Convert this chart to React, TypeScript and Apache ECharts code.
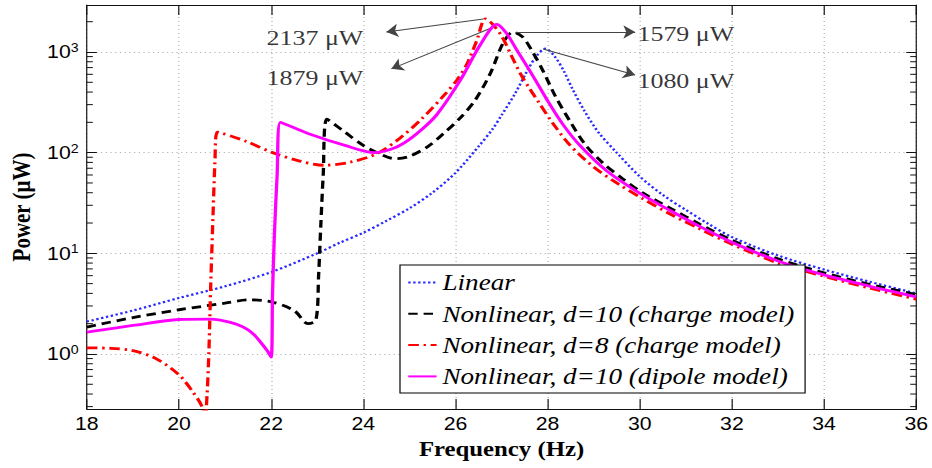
import React, { useEffect, useRef } from 'react';
import * as echarts from 'echarts';

// The original figure is horizontally stretched; we draw at a narrower width and stretch it back.
const STRETCH = 1.18;
const PAGE_W = 932;
const PAGE_H = 468;

const xMin = 18;
const xMax = 36;
const xStep = 2;
const yMin = 0.284;
const yMax = 2930;

const seriesNames = [
  'Linear',
  'Nonlinear, d=10 (charge model)',
  'Nonlinear, d=8 (charge model)',
  'Nonlinear, d=10 (dipole model)',
];

const linearData = [
  [18, 2.1], [19, 2.7], [20, 3.6], [21, 4.7], [22, 6.5], [23, 10], [23.5, 12.8], [24, 16], [24.5, 21],
  [25, 28], [25.5, 40], [26, 63], [26.5, 115], [26.8, 170], [27, 235], [27.3, 390], [27.55, 640],
  [27.75, 900], [27.95, 1080], [28.15, 910], [28.35, 650], [28.55, 420], [28.8, 260], [29.1, 160],
  [29.5, 100], [30, 58], [30.5, 38], [31, 27], [31.5, 19.5], [32, 14.5], [33, 9.5], [34, 6.9], [35, 5.2], [36, 4.0],
];

const chargeD10Data = [
  [18, 1.85], [19, 2.3], [20, 2.75], [21, 3.2], [21.5, 3.45], [22, 3.3], [22.5, 2.7], [22.8, 2.0],
  [22.97, 2.15], [23.03, 6], [23.08, 20], [23.13, 60], [23.21, 215], [23.6, 160], [24, 118], [24.3, 100],
  [24.7, 87], [25, 92], [25.4, 115], [25.75, 156], [26.1, 220], [26.43, 333], [26.76, 617], [27.04, 1240],
  [27.25, 1579], [27.45, 1420], [27.65, 1050], [27.9, 650], [28.16, 370], [28.5, 200], [28.83, 118],
  [29.2, 79], [29.63, 55], [30.06, 40], [30.7, 27.5], [31.3, 19.5], [32, 13.5], [33, 8.8], [34, 6.4], [35, 4.9], [36, 3.9],
];

const chargeD8Data = [
  [18, 1.15], [18.5, 1.14], [19, 1.08], [19.5, 0.9], [20, 0.62], [20.3, 0.42], [20.5, 0.3], [20.56, 0.22],
  [20.61, 0.4], [20.65, 1.1], [20.69, 5], [20.74, 25], [20.78, 80], [20.83, 160], [21.45, 130], [22.03, 100],
  [22.6, 83], [23.15, 75], [23.7, 80], [24.3, 98], [24.8, 140], [25.26, 215], [25.75, 370], [26.05, 540],
  [26.25, 760], [26.46, 1290], [26.65, 2137], [26.8, 1900], [27, 1450], [27.2, 950], [27.4, 620], [27.6, 440],
  [27.8, 320], [28.1, 200], [28.49, 118], [29, 72], [29.5, 50], [30.06, 35], [30.7, 24], [31.3, 17.5], [32, 12.3],
  [33, 8], [34, 5.9], [35, 4.5], [36, 3.5],
];

const dipoleD10Data = [
  [18, 1.65], [19, 1.92], [20, 2.2], [20.7, 2.22], [21, 2.12], [21.25, 1.97], [21.5, 1.74], [21.65, 1.52],
  [21.8, 1.26], [21.92, 1.07], [22, 0.93], [22.03, 4], [22.07, 15], [22.13, 60], [22.2, 200], [22.8, 155],
  [23.6, 118], [24.24, 100], [24.6, 108], [24.89, 125], [25.3, 175], [25.6, 240], [26.1, 520], [26.55, 1200],
  [26.9, 1879], [27.1, 1550], [27.33, 1050], [27.7, 560], [27.97, 345], [28.3, 200], [28.7, 118], [29.3, 65],
  [30.06, 38], [30.7, 26], [31.3, 18.5], [32, 12.9], [33, 8.4], [34, 6.1], [35, 4.7], [36, 3.7],
];

const minorTickValues = [
  0.3, 0.4, 0.5, 0.6, 0.7, 0.8, 0.9,
  2, 3, 4, 5, 6, 7, 8, 9,
  20, 30, 40, 50, 60, 70, 80, 90,
  200, 300, 400, 500, 600, 700, 800, 900,
  2000,
];

// Peak annotations (data coordinates)
const annotationTexts = ['2137 μW', '1879 μW', '1579 μW', '1080 μW'];
const annotationTextAt = [[21.9, 1400], [21.9, 552], [29.95, 1506], [29.95, 514]];
const arrowFrom = [[26.61, 2128], [26.83, 1770], [27.3, 1579], [27.9, 1070]];
const arrowTo = [[24.5, 1580], [24.61, 680], [29.9, 1579], [29.9, 590]];

const seriesColors = ['#2a2aff', '#000000', '#ff0000', '#ff00ff'];

const SERIF = "'Liberation Serif', 'Times New Roman', serif";
const SANS = "'Liberation Sans', Arial, sans-serif";

export default function App() {
  const ref = useRef<HTMLDivElement>(null);

  useEffect(() => {
    if (!ref.current) return;
    const chart = echarts.init(ref.current, undefined, { renderer: 'svg' });
    const S = STRETCH;
    const axisColor = '#111';
    const gridLine = { show: true, lineStyle: { color: '#b0b0b0', width: 1, type: [1, 3] as any } };

    const lineSeries = (i: number, data: number[][], lineStyle: any, z: number) => ({
      name: seriesNames[i],
      type: 'line',
      data,
      symbol: 'none',
      showSymbol: false,
      smooth: 0.3,
      color: seriesColors[i],
      lineStyle: { color: seriesColors[i], ...lineStyle },
      z,
      silent: true,
    });

    const option: any = {
      animation: false,
      grid: { left: 80 / S, right: 16 / S, top: 5, bottom: 59, containLabel: false },
      legend: {
        data: seriesNames,
        orient: 'vertical',
        left: 400 / S,
        top: 265,
        padding: [6, 9, 5, 6],
        itemGap: 8.3,
        itemWidth: 24,
        itemHeight: 14,
        backgroundColor: '#fff',
        borderColor: '#000',
        borderWidth: 1,
        borderRadius: 0,
        z: 20,
        itemStyle: { opacity: 0 },
        textStyle: { fontFamily: SERIF, fontStyle: 'italic', fontSize: 23, color: '#000' },
      },
      xAxis: [
        {
          type: 'value', min: xMin, max: xMax, interval: xStep, position: 'bottom',
          axisLine: { show: true, onZero: false, lineStyle: { color: axisColor, width: 1 } },
          axisTick: { show: true, inside: true, length: 10, lineStyle: { color: axisColor } },
          axisLabel: { fontFamily: SANS, fontSize: 18, color: '#000', margin: 6 },
          splitLine: gridLine,
          name: 'Frequency (Hz)', nameLocation: 'middle', nameGap: 30,
          nameTextStyle: { fontFamily: SERIF, fontWeight: 'bold', fontSize: 21, color: '#000' },
        },
        {
          type: 'value', min: xMin, max: xMax, interval: xStep, position: 'top',
          axisLine: { show: true, onZero: false, lineStyle: { color: axisColor, width: 1 } },
          axisTick: { show: true, inside: true, length: 10, lineStyle: { color: axisColor } },
          axisLabel: { show: false },
          splitLine: { show: false },
        },
      ],
      yAxis: [
        {
          type: 'log', logBase: 10, min: yMin, max: yMax, position: 'left',
          axisLine: { show: true, lineStyle: { color: axisColor, width: 1 } },
          axisTick: { show: true, inside: true, length: 10 / S, lineStyle: { color: axisColor } },
          axisLabel: {
            showMinLabel: false, showMaxLabel: false, margin: 7,
            formatter: (v: number) => `{b|10}{s|${Math.round(Math.log10(v))}}`,
            rich: {
              b: { fontFamily: SANS, fontSize: 18, color: '#000' },
              s: { fontFamily: SANS, fontSize: 12, color: '#000', verticalAlign: 'top', padding: [0, 0, 8, 0] },
            },
          },
          splitLine: gridLine,
          name: 'Power (μW)', nameLocation: 'middle', nameRotate: 90, nameGap: 38,
          nameTextStyle: { fontFamily: SERIF, fontWeight: 'bold', fontSize: 21, color: '#000' },
        },
        {
          type: 'log', logBase: 10, min: yMin, max: yMax, position: 'right',
          axisLine: { show: true, lineStyle: { color: axisColor, width: 1 } },
          axisTick: { show: true, inside: true, length: 10 / S, lineStyle: { color: axisColor } },
          axisLabel: { show: false },
          splitLine: { show: false },
        },
      ],
      series: [
        {
          ...lineSeries(0, linearData, { width: 2.2, type: [2, 2.2] }, 3),
          markLine: {
            silent: true,
            symbol: ['none', 'arrow'],
            symbolSize: 10,
            label: { show: false },
            lineStyle: { color: '#444', width: 1, type: 'solid' },
            itemStyle: { color: '#111' },
            data: arrowFrom.map((p, i) => [{ coord: p }, { coord: arrowTo[i] }]),
            z: 6,
          },
        },
        lineSeries(1, chargeD10Data, { width: 2.8, type: [8, 5] }, 4),
        lineSeries(2, chargeD8Data, { width: 2.8, type: [9, 4, 2, 4] }, 5),
        lineSeries(3, dipoleD10Data, { width: 2.8, type: 'solid' }, 6),
        {
          name: 'annotations',
          type: 'scatter',
          symbolSize: 0,
          silent: true,
          data: annotationTexts.map((t, i) => ({ name: t, value: annotationTextAt[i] })),
          label: {
            show: true, position: 'right', distance: 0, formatter: '{b}',
            fontFamily: SERIF, fontSize: 22, color: '#000',
          },
          z: 7,
        },
        {
          name: 'minorTicks',
          type: 'custom',
          silent: true,
          data: minorTickValues.map((v) => [xMin, v]),
          renderItem: (_params: any, api: any) => {
            const v = api.value(1);
            const l = api.coord([xMin, v]);
            const r = api.coord([xMax, v]);
            const len = 6 / S;
            return {
              type: 'group',
              children: [
                { type: 'line', shape: { x1: l[0], y1: l[1], x2: l[0] + len, y2: l[1] }, style: { stroke: axisColor, lineWidth: 1 } },
                { type: 'line', shape: { x1: r[0] - len, y1: r[1], x2: r[0], y2: r[1] }, style: { stroke: axisColor, lineWidth: 1 } },
              ],
            };
          },
          z: 8,
        },
      ],
    };

    chart.setOption(option);
    return () => chart.dispose();
  }, []);

  return (
    <div style={{ position: 'absolute', left: 0, top: 0, width: PAGE_W, height: PAGE_H, overflow: 'hidden', background: '#fff' }}>
      <div
        ref={ref}
        style={{ width: PAGE_W / STRETCH, height: PAGE_H, transform: `scaleX(${STRETCH})`, transformOrigin: '0 0' }}
      />
    </div>
  );
}
